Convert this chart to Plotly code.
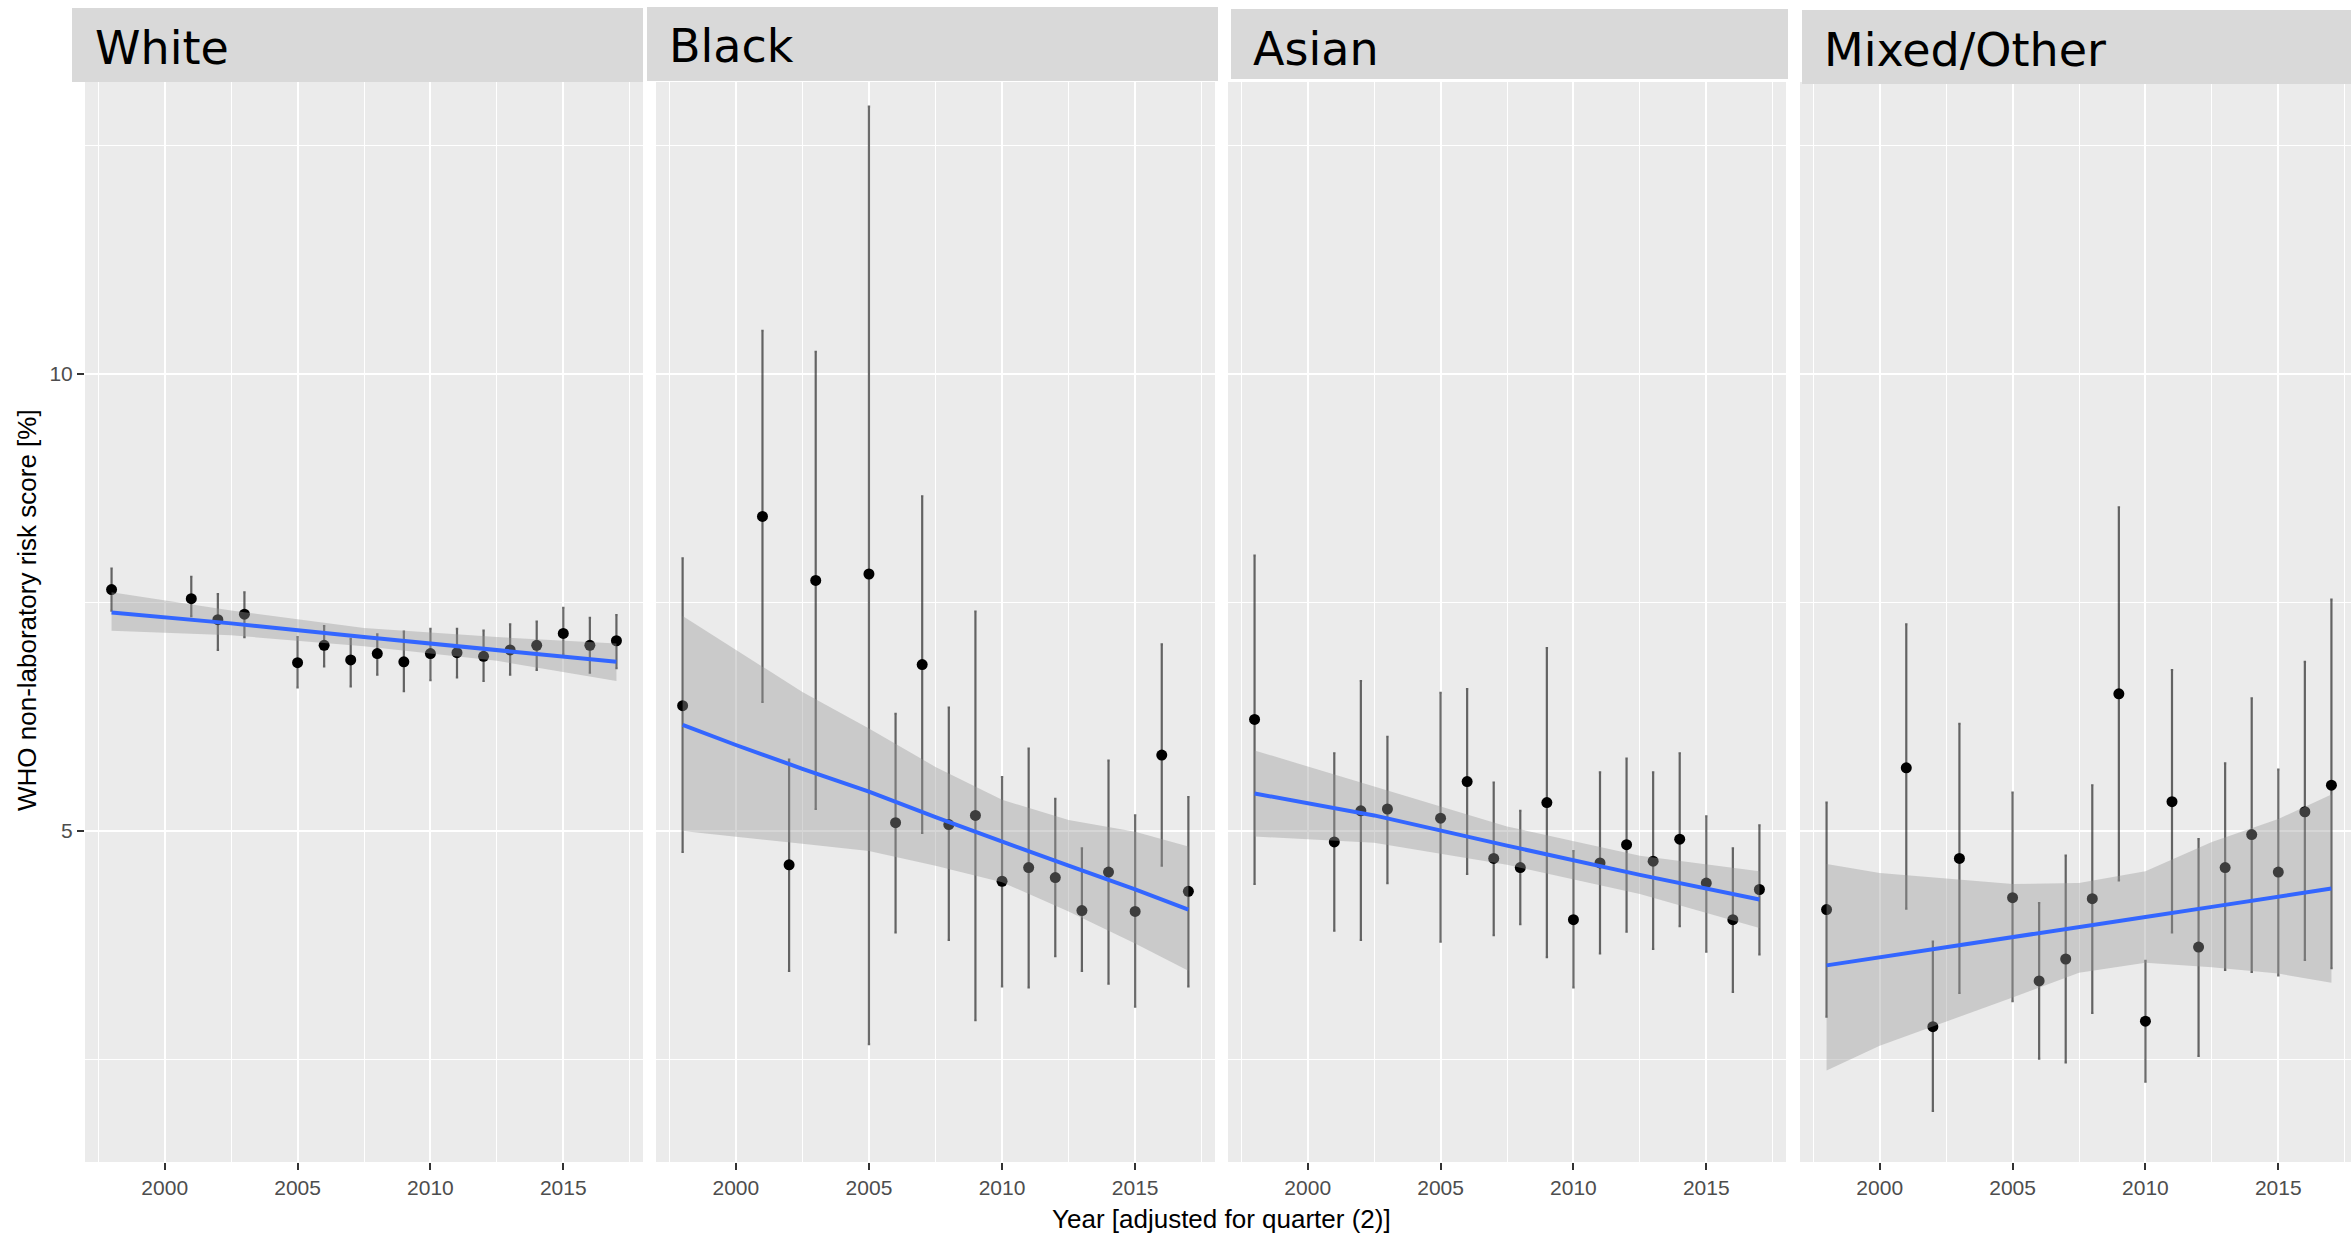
import plotly.graph_objects as go

# ---- data -------------------------------------------------------------
years = [1998, 2001, 2002, 2003, 2005, 2006, 2007, 2008, 2009, 2010,
         2011, 2012, 2013, 2014, 2015, 2016, 2017]

groups = ["White", "Black", "Asian", "Mixed/Other"]

white_mean = [7.64, 7.54, 7.31, 7.37, 6.84, 7.03, 6.87, 6.94, 6.85, 6.94,
              6.95, 6.91, 6.98, 7.03, 7.16, 7.03, 7.08]
white_low = [7.41, 7.35, 6.98, 7.12, 6.57, 6.80, 6.58, 6.71, 6.53, 6.65,
             6.68, 6.64, 6.71, 6.76, 6.93, 6.73, 6.78]
white_high = [7.87, 7.78, 7.59, 7.61, 7.12, 7.24, 7.10, 7.15, 7.18, 7.21,
              7.21, 7.19, 7.26, 7.29, 7.44, 7.33, 7.36]

black_mean = [6.37, 8.44, 4.63, 7.74, 7.81, 5.09, 6.82, 5.07, 5.17, 4.45,
              4.60, 4.49, 4.13, 4.55, 4.12, 5.83, 4.34]
black_low = [4.77, 6.41, 3.47, 5.24, 2.67, 3.89, 4.98, 3.81, 2.93, 3.30,
             3.29, 3.63, 3.47, 3.33, 3.08, 4.62, 3.30]
black_high = [7.98, 10.47, 5.78, 10.24, 12.92, 6.28, 8.66, 6.35, 7.40, 5.59,
              5.90, 5.35, 4.81, 5.77, 5.17, 7.04, 5.37]

asian_mean = [6.22, 4.88, 5.22, 5.24, 5.14, 5.54, 4.70, 4.60, 5.31, 4.03,
              4.65, 4.85, 4.67, 4.91, 4.43, 4.03, 4.36]
asian_low = [4.42, 3.91, 3.81, 4.43, 3.79, 4.53, 3.86, 3.98, 3.62, 3.29,
             3.66, 3.90, 3.71, 3.96, 3.68, 3.24, 3.65]
asian_high = [8.01, 5.85, 6.64, 6.03, 6.51, 6.55, 5.53, 5.22, 7.00, 4.78,
              5.64, 5.79, 5.64, 5.85, 5.16, 4.81, 5.06]

mixed_mean = [4.14, 5.69, 2.86, 4.70, 4.27, 3.36, 3.60, 4.26, 6.50, 2.92,
              5.32, 3.73, 4.60, 4.96, 4.55, 5.21, 5.50]
mixed_low = [2.97, 4.15, 1.94, 3.23, 3.14, 2.51, 2.47, 3.01, 4.46, 2.26,
             3.89, 2.54, 3.48, 3.46, 3.42, 3.59, 3.50]
mixed_high = [5.31, 7.26, 3.79, 6.17, 5.42, 4.21, 4.73, 5.50, 8.54, 3.58,
              6.76, 4.91, 5.74, 6.45, 5.67, 6.85, 7.53]

# linear trend with 95% confidence band
white_fit_x = [1998, 2002.5, 2007.5, 2012.5, 2017]
white_fit = [7.39, 7.27, 7.12, 6.98, 6.85]
white_fit_lo = [7.19, 7.14, 7.02, 6.86, 6.64]
white_fit_hi = [7.61, 7.41, 7.22, 7.12, 7.05]

black_fit_x = [1998, 2000, 2002.5, 2005, 2007.5, 2010, 2012.5, 2015, 2017]
black_fit = [6.16, 5.94, 5.68, 5.43, 5.15, 4.88, 4.62, 4.36, 4.14]
black_fit_lo = [5.00, 4.94, 4.86, 4.78, 4.62, 4.44, 4.12, 3.77, 3.47]
black_fit_hi = [7.35, 6.98, 6.52, 6.12, 5.70, 5.34, 5.12, 4.99, 4.83]

asian_fit_x = [1998, 2002.5, 2007.5, 2012.5, 2017]
asian_fit = [5.41, 5.17, 4.84, 4.52, 4.25]
asian_fit_lo = [4.94, 4.87, 4.63, 4.31, 3.94]
asian_fit_hi = [5.88, 5.49, 5.05, 4.73, 4.56]

mixed_fit_x = [1998, 2000, 2005, 2007.5, 2010, 2012.5, 2015, 2017]
mixed_fit = [3.53, 3.62, 3.84, 3.95, 4.06, 4.17, 4.28, 4.37]
mixed_fit_lo = [2.38, 2.65, 3.18, 3.45, 3.56, 3.51, 3.44, 3.34]
mixed_fit_hi = [4.64, 4.54, 4.42, 4.43, 4.56, 4.88, 5.13, 5.40]

x_ticks = [2000, 2005, 2010, 2015]
x_minor = [1997.5, 2002.5, 2007.5, 2012.5, 2017.5]
y_ticks = [5, 10]
y_minor = [2.5, 7.5, 12.5]

# ---- layout geometry (pixels) ---------------------------------------
W, H = 2351, 1235
L, R, T, B = 85, 0, 82, 73
PW, PH = W - L - R, H - T - B


def px(x):
    return (x - L) / PW


def py(y):
    return (H - B - y) / PH


panel_px = [(85, 643), (656, 1215), (1228, 1786), (1800, 2351)]
x_ranges = [[1997.0, 2018.0]] * 3 + [[1997.0, 1997.0 + 21.0 * 551 / 558]]
y_range = [1.38, 13.19]
strip_px = [(72, 643, 8, 82), (647, 1218, 7, 81), (1231, 1788, 9, 79), (1802, 2351, 10, 84)]
label_px = [(93, 48), (667, 46), (1251, 49), (1822, 50)]

series = [
    (white_mean, white_low, white_high, white_fit_x, white_fit, white_fit_lo, white_fit_hi),
    (black_mean, black_low, black_high, black_fit_x, black_fit, black_fit_lo, black_fit_hi),
    (asian_mean, asian_low, asian_high, asian_fit_x, asian_fit, asian_fit_lo, asian_fit_hi),
    (mixed_mean, mixed_low, mixed_high, mixed_fit_x, mixed_fit, mixed_fit_lo, mixed_fit_hi),
]

TICK_FONT = dict(family="Liberation Sans, Arial, sans-serif", size=21, color="#4D4D4D")
fig = go.Figure()

for i, (mean, low, high, fx, fit, flo, fhi) in enumerate(series):
    suffix = "" if i == 0 else str(i + 1)
    xa, ya = "x" + suffix, "y" + suffix

    # yearly means with their confidence intervals
    fig.add_trace(go.Scatter(
        x=years, y=mean, mode="markers",
        marker=dict(color="black", size=11),
        error_y=dict(type="data", symmetric=False,
                     array=[h - m for h, m in zip(high, mean)],
                     arrayminus=[m - l for m, l in zip(mean, low)],
                     color="rgba(0,0,0,0.58)", thickness=2.2, width=1.2),
        xaxis=xa, yaxis=ya, showlegend=False, hoverinfo="skip"))

    # confidence band of the trend, drawn over the points
    fig.add_trace(go.Scatter(
        x=list(fx) + list(fx)[::-1], y=list(fhi) + list(flo)[::-1],
        mode="lines", fill="toself", fillcolor="rgba(153,153,153,0.4)",
        line=dict(width=0), xaxis=xa, yaxis=ya, showlegend=False, hoverinfo="skip"))

    # trend line
    fig.add_trace(go.Scatter(
        x=fx, y=fit, mode="lines", line=dict(color="#3366FF", width=4),
        xaxis=xa, yaxis=ya, showlegend=False, hoverinfo="skip"))

    x0, x1 = panel_px[i]
    fig.layout["xaxis" + suffix] = dict(
        domain=[px(x0), min(px(x1), 1.0)], range=x_ranges[i], anchor=ya,
        tickvals=x_ticks, ticks="outside", ticklen=7, tickwidth=2, tickcolor="#333333",
        tickfont=TICK_FONT, showgrid=True, gridcolor="white", gridwidth=2.2,
        minor=dict(tickvals=x_minor, showgrid=True, gridcolor="white", gridwidth=1.1),
        zeroline=False, showline=False, fixedrange=True)
    fig.layout["yaxis" + suffix] = dict(
        domain=[0, 1], range=y_range, anchor=xa,
        tickvals=y_ticks, ticks="outside" if i == 0 else "",
        showticklabels=(i == 0), ticklen=7, tickwidth=2, tickcolor="#333333",
        tickfont=TICK_FONT, showgrid=True, gridcolor="white", gridwidth=2.2,
        minor=dict(tickvals=y_minor, showgrid=True, gridcolor="white", gridwidth=1.1),
        zeroline=False, showline=False, fixedrange=True)

shapes = []
annotations = []
for (sx0, sx1, sy0, sy1), (lx, ly), name in zip(strip_px, label_px, groups):
    shapes.append(dict(type="rect", xref="paper", yref="paper",
                       x0=px(sx0), x1=px(sx1), y0=py(sy1), y1=py(sy0),
                       fillcolor="#D9D9D9", line=dict(width=0), layer="above"))
    annotations.append(dict(text=name, xref="paper", yref="paper",
                            x=px(lx), y=py(ly), xanchor="left", yanchor="middle",
                            showarrow=False,
                            font=dict(family="DejaVu Sans", size=46, color="black")))

annotations.append(dict(text="WHO non-laboratory risk score [%]", xref="paper", yref="paper",
                        x=px(27), y=py(610), xanchor="center", yanchor="middle",
                        textangle=-90, showarrow=False,
                        font=dict(family="Liberation Sans, Arial, sans-serif", size=26, color="black")))
annotations.append(dict(text="Year [adjusted for quarter (2)]", xref="paper", yref="paper",
                        x=px(1221.5), y=py(1219), xanchor="center", yanchor="middle",
                        showarrow=False,
                        font=dict(family="Liberation Sans, Arial, sans-serif", size=26, color="black")))

fig.update_layout(
    width=W, height=H, margin=dict(l=L, r=R, t=T, b=B, pad=0),
    paper_bgcolor="white", plot_bgcolor="#EBEBEB",
    shapes=shapes, annotations=annotations, showlegend=False)

fig.write_html("out.html")
